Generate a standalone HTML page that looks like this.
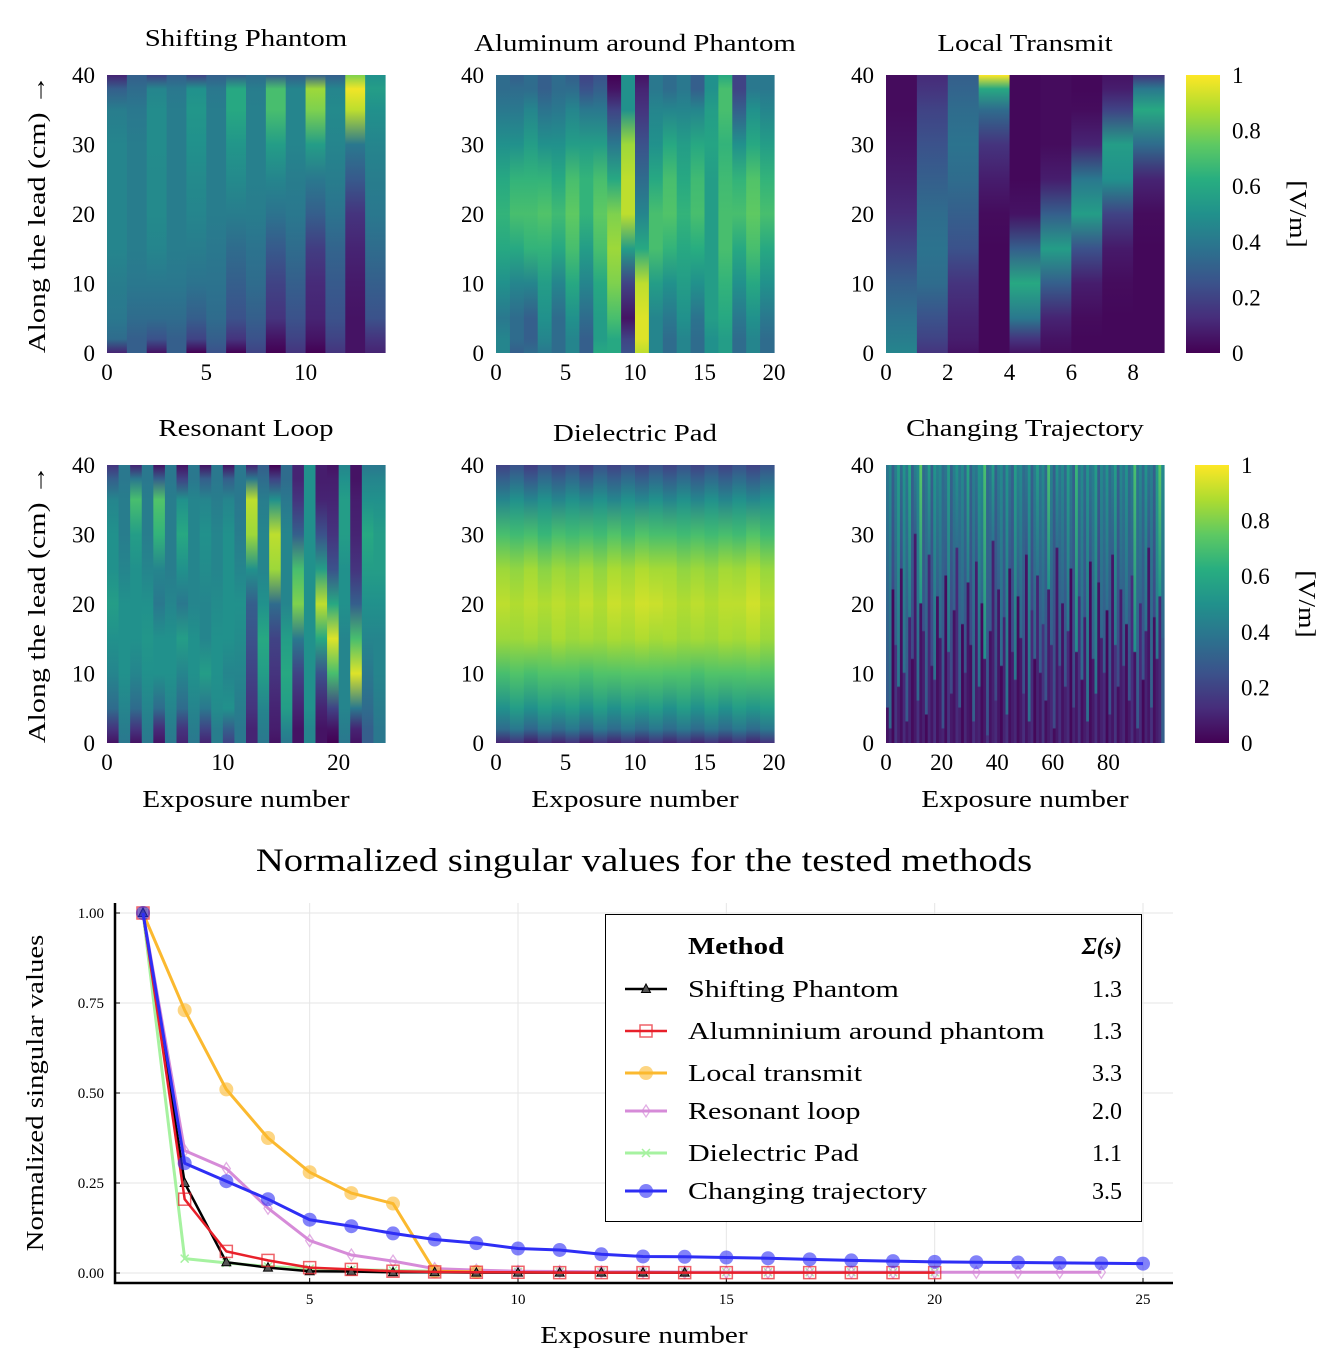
<!DOCTYPE html>
<html><head><meta charset="utf-8"><style>
html,body{margin:0;padding:0;background:#fff;}
svg text{font-family:"Liberation Serif",serif;fill:#000;}
</style></head><body>
<svg id="root" width="1343" height="1356" viewBox="0 0 1343 1356" xmlns="http://www.w3.org/2000/svg">
<defs id="defs"></defs>
<g id="heat"></g>
<g id="bottom"></g>
</svg>
<script>
const zLevels=[0,2,5,10,15,20,25,30,35,38,40];
const shiftingPhantom=[
[.1,.35,.4,.42,.45,.45,.45,.45,.42,.3,.1],[.3,.3,.35,.4,.42,.42,.42,.42,.4,.35,.3],
[.05,.25,.35,.4,.45,.47,.47,.48,.48,.45,.2],[.3,.3,.35,.4,.42,.42,.42,.42,.42,.4,.3],
[0,.2,.3,.38,.42,.45,.47,.5,.52,.5,.2],[.25,.3,.35,.38,.4,.42,.42,.42,.42,.4,.3],
[0,.15,.25,.3,.35,.42,.47,.52,.6,.6,.3],[.2,.25,.3,.35,.38,.42,.43,.43,.43,.42,.35],
[0,.05,.15,.2,.28,.38,.45,.55,.7,.7,.3],[.15,.2,.25,.3,.35,.4,.42,.45,.45,.45,.3],
[0,.05,.1,.12,.18,.3,.4,.55,.8,.85,.3],[.15,.2,.25,.28,.32,.38,.42,.45,.47,.45,.3],
[.05,.05,.05,.07,.1,.15,.28,.4,.9,.98,.8],[.1,.15,.25,.3,.35,.4,.42,.45,.5,.55,.5]];
const aluminum=[
[.45,.45,.4,.5,.6,.65,.6,.5,.4,.35,.35],[.3,.35,.35,.45,.6,.7,.65,.5,.4,.35,.3],
[.35,.3,.3,.45,.65,.7,.65,.55,.45,.35,.35],[.4,.45,.5,.55,.65,.72,.65,.5,.38,.3,.3],
[.35,.35,.35,.45,.6,.68,.6,.5,.4,.35,.35],[.45,.45,.5,.6,.7,.75,.7,.55,.45,.35,.3],
[.3,.3,.35,.45,.55,.65,.65,.55,.4,.25,.2],[.6,.55,.55,.6,.7,.75,.7,.55,.4,.3,.25],
[.6,.6,.7,.8,.85,.8,.6,.4,.2,.05,0],[.25,.2,.05,.2,.55,.9,.9,.85,.5,.5,.5],
[.9,.95,.95,.9,.6,.45,.35,.25,.15,.1,.05],[.45,.45,.45,.55,.7,.7,.6,.5,.45,.4,.4],
[.35,.35,.4,.5,.65,.72,.7,.6,.45,.35,.35],[.45,.45,.5,.55,.6,.65,.6,.55,.45,.4,.4],
[.35,.35,.38,.5,.62,.7,.68,.6,.45,.3,.3],[.5,.5,.55,.55,.55,.55,.55,.58,.55,.5,.5],
[.55,.55,.6,.65,.7,.7,.68,.65,.7,.7,.6],[.35,.35,.4,.5,.6,.7,.65,.5,.3,.2,.2],
[.45,.45,.5,.6,.7,.75,.72,.6,.5,.4,.4],[.35,.35,.4,.5,.6,.7,.65,.55,.45,.4,.4]];
const localTransmit=[
[.45,.42,.38,.3,.2,.12,.08,.05,.03,.03,.03],[.15,.2,.25,.35,.38,.35,.3,.25,.2,.15,.12],
[.05,.08,.1,.15,.25,.3,.35,.38,.35,.32,.3],[.02,.02,.02,.02,.02,.03,.08,.15,.35,.6,1],
[.05,.15,.4,.6,.3,.05,.02,.02,.02,.02,.02],[.03,.05,.1,.3,.55,.3,.08,.03,.03,.03,.03],
[.02,.02,.03,.08,.25,.55,.4,.1,.03,.02,.02],[.02,.02,.02,.03,.07,.2,.5,.55,.2,.08,.05],
[.02,.02,.02,.02,.02,.03,.1,.35,.6,.4,.15]];
const resonantLoop=[
[.05,.15,.35,.45,.5,.55,.5,.5,.45,.3,.15],[.4,.42,.45,.5,.5,.5,.45,.42,.42,.4,.4],
[.05,.15,.35,.45,.5,.5,.5,.55,.7,.4,.1],[.4,.42,.45,.5,.52,.5,.45,.42,.42,.4,.4],
[.05,.12,.35,.5,.5,.4,.45,.65,.72,.3,.05],[.4,.42,.45,.5,.5,.45,.42,.42,.42,.4,.4],
[.1,.15,.35,.45,.55,.4,.5,.6,.5,.2,.05],[.4,.42,.45,.5,.5,.45,.45,.45,.45,.4,.4],
[.1,.2,.4,.55,.45,.45,.48,.5,.45,.3,.05],[.42,.42,.48,.5,.5,.48,.45,.45,.42,.4,.4],
[.2,.3,.5,.45,.5,.5,.5,.5,.45,.3,.05],[.4,.4,.42,.45,.48,.5,.45,.42,.4,.4,.4],
[.1,.1,.15,.2,.25,.3,.5,.85,.9,.4,.1],[.4,.42,.45,.55,.6,.5,.45,.45,.42,.35,.3],
[.05,.08,.1,.15,.2,.35,.85,.9,.5,.2,0],[.4,.45,.55,.6,.55,.45,.45,.45,.4,.35,.35],
[.05,.05,.1,.2,.4,.8,.7,.3,.15,.1,.1],[.45,.45,.5,.5,.5,.5,.5,.5,.5,.5,.5],
[.05,.05,.1,.25,.6,.9,.55,.25,.1,.08,.08],[0,.05,.2,.7,.95,.6,.25,.15,.1,.08,.05],
[.4,.42,.45,.45,.45,.5,.5,.55,.55,.5,.45],[.05,.1,.4,.95,.7,.3,.15,.1,.08,.05,.05],
[.3,.3,.35,.4,.45,.5,.55,.6,.5,.45,.4],[.4,.4,.42,.45,.45,.5,.55,.55,.5,.45,.4]];
const dielectricPad=[
[.1,.35,.5,.7,.85,.9,.85,.7,.45,.3,.2],[.15,.4,.55,.72,.85,.88,.83,.68,.5,.35,.25],
[.08,.33,.5,.7,.86,.9,.86,.7,.45,.28,.18],[.15,.4,.55,.72,.84,.88,.82,.66,.5,.35,.25],
[.1,.35,.52,.72,.87,.9,.85,.7,.45,.3,.2],[.15,.4,.55,.72,.85,.88,.83,.68,.5,.35,.25],
[.08,.33,.5,.7,.86,.91,.86,.7,.46,.28,.18],[.15,.4,.55,.72,.85,.88,.83,.68,.5,.35,.25],
[.1,.35,.5,.72,.87,.92,.87,.72,.45,.3,.2],[.15,.4,.55,.73,.86,.9,.85,.68,.5,.35,.25],
[.1,.35,.52,.73,.88,.93,.88,.72,.46,.3,.2],[.15,.4,.55,.73,.86,.92,.86,.7,.5,.35,.25],
[.1,.35,.5,.72,.87,.9,.86,.7,.45,.3,.2],[.15,.4,.55,.72,.85,.88,.83,.68,.5,.35,.25],
[.1,.35,.5,.7,.86,.9,.85,.7,.45,.3,.2],[.15,.4,.55,.72,.85,.88,.83,.68,.5,.35,.25],
[.1,.35,.5,.72,.87,.9,.86,.7,.45,.3,.2],[.15,.4,.55,.72,.86,.9,.85,.68,.5,.35,.25],
[.1,.35,.52,.73,.88,.93,.88,.72,.46,.3,.2],[.15,.4,.55,.72,.85,.89,.84,.68,.5,.35,.25]];
const trajCut=[5,2,22,14,8,25,10,3,18,12,30,6,20,16,4,27,11,9,21,15,2,24,13,7,19,28,5,17,10,23,14,3,26,8,20,12,1,16,29,6,22,11,18,4,25,13,9,21,15,7,27,3,19,12,24,10,17,6,22,14,2,28,11,20,8,16,25,5,13,21,9,18,3,26,12,7,23,15,10,19,4,27,14,8,22,11,17,6,24,13,2,20,9,16,28,5,18,12,21,15];
const trajLow=[.05,.1,.02,.15,.08,.04,.12,.06,.1,.03,.07,.14,.05,.09,.02,.11,.06,.13,.04,.08,.1,.03,.15,.07,.05,.12,.09,.02,.11,.06,.04,.13,.08,.1,.03,.07,.15,.05,.09,.12,.06,.02,.1,.14,.04,.08,.11,.03,.07,.13,.05,.09,.12,.02,.1,.06,.15,.04,.08,.11,.03,.07,.13,.05,.09,.12,.02,.1,.06,.14,.04,.08,.11,.03,.07,.13,.05,.09,.12,.02,.1,.06,.15,.04,.08,.11,.03,.07,.13,.05,.09,.12,.02,.1,.06,.14,.04,.08,.11,.3];
const trajHigh=[.5,.6,.4,.55,.7,.45,.65,.5,.75,.4,.55,.6,.95,.45,.5,.7,.4,.65,.55,.6,.45,.5,.7,.4,.55,.65,.5,.6,.45,.75,.4,.55,.5,.65,.6,.9,.45,.5,.7,.4,.55,.6,.45,.65,.5,.4,.7,.55,.6,.45,.5,.65,.4,.55,.7,.5,.6,.45,.9,.55,.4,.65,.5,.6,.45,.7,.55,.4,.85,.5,.6,.45,.65,.5,.55,.7,.4,.6,.5,.65,.45,.55,.7,.4,.6,.5,.65,.45,.55,.9,.5,.6,.45,.65,.5,.55,.4,.7,.95,.6];
const cbTicks=[0,0.2,0.4,0.6,0.8,1];
const cbLabels=["0","0.2","0.4","0.6","0.8","1"];
const zTicks=[0,10,20,30,40];

const NS="http://www.w3.org/2000/svg";
const VIR=["#440154","#472d7b","#3b528b","#2c728e","#21918c","#28ae80","#5ec962","#addc30","#fde725"];
function hx(c){return [parseInt(c.slice(1,3),16),parseInt(c.slice(3,5),16),parseInt(c.slice(5,7),16)];}
function vir(v){v=Math.max(0,Math.min(1,v));const p=v*8,i=Math.min(7,Math.floor(p)),f=p-i;const a=hx(VIR[i]),b=hx(VIR[i+1]);return "rgb("+a.map((x,k)=>Math.round(x+(b[k]-x)*f)).join(",")+")";}
function mk(tag,attrs,parent){const e=document.createElementNS(NS,tag);for(const k in attrs)e.setAttribute(k,attrs[k]);if(parent)parent.appendChild(e);return e;}
function txt(parent,x,y,s,size,anchor,extra){const t=mk("text",Object.assign({x:x,y:y,"font-size":size,"text-anchor":anchor||"middle"},extra||{}),parent);t.textContent=s;return t;}
function stretch(t,k){try{const L=t.getComputedTextLength();if(L>0){t.setAttribute("textLength",(L*k).toFixed(1));t.setAttribute("lengthAdjust","spacingAndGlyphs");}}catch(e){}}
const defs=document.getElementById("defs"),heat=document.getElementById("heat");
let gid=0;
function gradFromStops(stops){const id="g"+(gid++);const g=mk("linearGradient",{id:id,x1:0,y1:1,x2:0,y2:0},defs);stops.forEach(s=>mk("stop",{offset:s[0],"stop-color":vir(s[1])},g));return id;}

function panel(name,title,x0,y0,xmax,xticks,cols,titleY,xlabel,ylabel,stopsFn){
  const W=278,H=278;
  const g=mk("g",{},heat);
  
  
  const sx=v=>x0+v/xmax*W, sz=z=>y0+H-z/40*H;
  for(let i=0;i<cols;i++){
    const id=gradFromStops(stopsFn(i));
    const r=mk("rect",{x:sx(i),y:sz(40),width:sx(i+1)-sx(i)+0.6,height:sz(0)-sz(40),fill:"url(#"+id+")"},g);
    
    
  }
  const t=txt(g,x0+W/2,titleY,title,24);
  
  
  stretch(t,1.2);
  zTicks.forEach(z=>{const l=txt(g,x0-12,sz(z)+8,String(z),23,"end");});
  xticks.forEach(v=>{const l=txt(g,sx(v),y0+H+27,String(v),23);});
  if(xlabel){const l=txt(g,x0+W/2,y0+H+64,"Exposure number",24);stretch(l,1.22);}
  if(ylabel){const l=txt(g,0,0,"Along the lead (cm) →",24,"middle",{transform:"translate(45,"+(y0+H/2)+") rotate(-90)"});stretch(l,1.25);}
}
const matStops=m=>i=>zLevels.map((z,k)=>[z/40,m[i][k]]);
panel("heatmap-shifting-phantom","Shifting Phantom",107,75,14,[0,5,10],shiftingPhantom.length,46,false,true,matStops(shiftingPhantom));
panel("heatmap-aluminum","Aluminum around Phantom",496,75,20,[0,5,10,15,20],aluminum.length,51,false,false,matStops(aluminum));
panel("heatmap-local-transmit","Local Transmit",886,75,9,[0,2,4,6,8],localTransmit.length,51,false,false,matStops(localTransmit));
panel("heatmap-resonant-loop","Resonant Loop",107,465,24,[0,10,20],resonantLoop.length,436,true,true,matStops(resonantLoop));
panel("heatmap-dielectric-pad","Dielectric Pad",496,465,20,[0,5,10,15,20],dielectricPad.length,441,true,false,matStops(dielectricPad));
panel("heatmap-changing-trajectory","Changing Trajectory",886,465,100,[0,20,40,60,80],trajCut.length,436,true,false,
  i=>{const c=trajCut[i]/40;return [[0,trajLow[i]],[c,trajLow[i]],[Math.min(1,c+0.005),trajHigh[i]*0.55],[1,trajHigh[i]*0.78]];});

function colorbar(name,x,y0){
  const g=mk("g",{},heat);
  
  
  const id=gradFromStops(VIR.map((c,k)=>[k/8,k/8]));
  mk("rect",{x:x,y:y0,width:34,height:278,fill:"url(#"+id+")"},g);
  cbTicks.forEach((v,k)=>{const l=txt(g,x+46,y0+278-v*278+8,cbLabels[k],23,"start");});
  const l=txt(g,0,0,"[V/m]",24,"middle",{transform:"translate("+(x+104)+","+(y0+139)+") rotate(90)"});
  
  stretch(l,1.15);
}
colorbar("colorbar-top",1186,75);
colorbar("colorbar-bottom",1195,465);
</script>
<script>
const exposures=[1,2,3,4,5,6,7,8,9,10,11,12,13,14,15,16,17,18,19,20,21,22,23,24,25];
const shiftingVals=[1,.25,.03,.015,.005,.004,.002,.002,.001,.001,.001,.001,.001,.001];
const aluminumVals=[1,.205,.06,.035,.015,.01,.005,.003,.002,.002,.001,.001,.001,.001,.001,.001,.001,.001,.001,.001];
const localVals=[1,.73,.51,.375,.28,.222,.193,.005,.003];
const resonantVals=[1,.34,.29,.18,.09,.05,.033,.012,.008,.005,.004,.003,.003,.002,.002,.002,.002,.002,.002,.002,.002,.002,.002,.002];
const dielectricVals=[1,.04,.028,.018,.012,.009,.007,.005,.004,.003,.003,.002,.002,.002,.002,.002,.002,.002,.002,.002];
const trajectoryVals=[1,.305,.255,.205,.148,.13,.11,.093,.083,.068,.064,.052,.046,.045,.043,.041,.038,.035,.033,.031,.03,.029,.028,.027,.026];
const methodNames=["Shifting Phantom","Alumninium around phantom","Local transmit","Resonant loop","Dielectric Pad","Changing trajectory"];
const sigmaVals=["1.3","1.3","3.3","2.0","1.1","3.5"];
const xTickVals=[5,10,15,20,25];
const yTickVals=[0,0.25,0.5,0.75,1];

const B=document.getElementById("bottom");
const X=v=>143+(v-1)*41.667, Y=v=>1273-360*v;
function e(tag,a,p){const el=document.createElementNS(NS,tag);for(const k in a)el.setAttribute(k,a[k]);p.appendChild(el);return el;}
function t2(p,x,y,s,size,anchor,extra){const el=e("text",Object.assign({x:x,y:y,"font-size":size,"text-anchor":anchor||"middle"},extra||{}),p);el.textContent=s;return el;}
const title=t2(B,644,871,"Normalized singular values for the tested methods",33);


stretch(title,1.17);
xTickVals.forEach(v=>{const gl=e("line",{x1:X(v),x2:X(v),y1:903,y2:1283,stroke:"#e6e6e6","stroke-width":1},B);
  e("line",{x1:X(v),x2:X(v),y1:1283,y2:1278,stroke:"#000"},B);
  const l=t2(B,X(v),1304,String(v),15);});
yTickVals.forEach(v=>{const gl=e("line",{x1:115,x2:1173,y1:Y(v),y2:Y(v),stroke:"#e6e6e6","stroke-width":1},B);
  e("line",{x1:115,x2:120,y1:Y(v),y2:Y(v),stroke:"#000"},B);
  const l=t2(B,104,Y(v)+5,v.toFixed(2),15,"end");});
const ax=e("path",{d:"M115,903 V1283 H1173",fill:"none",stroke:"#000","stroke-width":2.5},B);

const yl=t2(B,0,0,"Normalized singular values",24,"middle",{transform:"translate(43,1093) rotate(-90)"});

stretch(yl,1.2);
const xl=t2(B,644,1343,"Exposure number",24);

stretch(xl,1.22);

function marker(p,kind,x,y,col){
  let m;
  if(kind==="tri") m=e("path",{d:`M${x},${y-5} L${x+4.5},${y+3.5} L${x-4.5},${y+3.5}Z`,fill:"#555","stroke":"#000","stroke-width":1},p);
  else if(kind==="sq") m=e("rect",{x:x-6,y:y-6,width:12,height:12,fill:"none",stroke:col,"stroke-width":1.5,opacity:.7},p);
  else if(kind==="circ") m=e("circle",{cx:x,cy:y,r:7,fill:col,opacity:.6},p);
  else if(kind==="dia") m=e("path",{d:`M${x},${y-6} L${x+4},${y} L${x},${y+6} L${x-4},${y}Z`,fill:"none",stroke:col,"stroke-width":1.3,opacity:.7},p);
  else m=e("path",{d:`M${x-4},${y-4} L${x+4},${y+4} M${x+4},${y-4} L${x-4},${y+4}`,stroke:col,"stroke-width":1.5},p);
  
  
}
const series=[
  {vals:shiftingVals,col:"#000000",mk:"tri",w:2.5},
  {vals:aluminumVals,col:"#e8202a",mk:"sq",w:2.5},
  {vals:localVals,col:"#fbb92f",mk:"circ",w:3},
  {vals:resonantVals,col:"#d68bd8",mk:"dia",w:3},
  {vals:dielectricVals,col:"#a6f2a0",mk:"x",w:3},
  {vals:trajectoryVals,col:"#2e2ef5",mk:"circ",w:3}];
const drawOrder=[4,3,2,0,1,5];
drawOrder.forEach(si=>{const s=series[si];
  const g=e("g",{},B);
  
  
  const pts=s.vals.map((v,i)=>X(exposures[i])+","+Y(v)).join(" ");
  const pl=e("polyline",{points:pts,fill:"none",stroke:s.col,"stroke-width":s.w,"stroke-linejoin":"round"},g);
  
  
  s.vals.forEach((v,i)=>marker(g,s.mk,X(exposures[i]),Y(v),s.col));
});
const L=e("g",{},B);


e("rect",{x:605.5,y:914.5,width:536,height:307,fill:"#fff",stroke:"#000","stroke-width":1},L);
const mh=t2(L,688,954,"Method",24,"start",{"font-weight":"bold"});
stretch(mh,1.2);
const sh=t2(L,1122,954,"Σ(s)",24,"end",{"font-weight":"bold","font-style":"italic"});
const rowY=[989,1031,1073,1111,1153,1191];
methodNames.forEach((n,i)=>{const s=series[i];
  const r=e("g",{},L);
  
  
  e("line",{x1:625,x2:667,y1:rowY[i],y2:rowY[i],stroke:s.col,"stroke-width":s.w},r);
  marker(r,s.mk,646,rowY[i],s.col);
  const lt=t2(r,688,rowY[i]+8,n,24,"start");
  stretch(lt,1.25);
  t2(r,1122,rowY[i]+8,sigmaVals[i],24,"end");
});
</script>
</body></html>
